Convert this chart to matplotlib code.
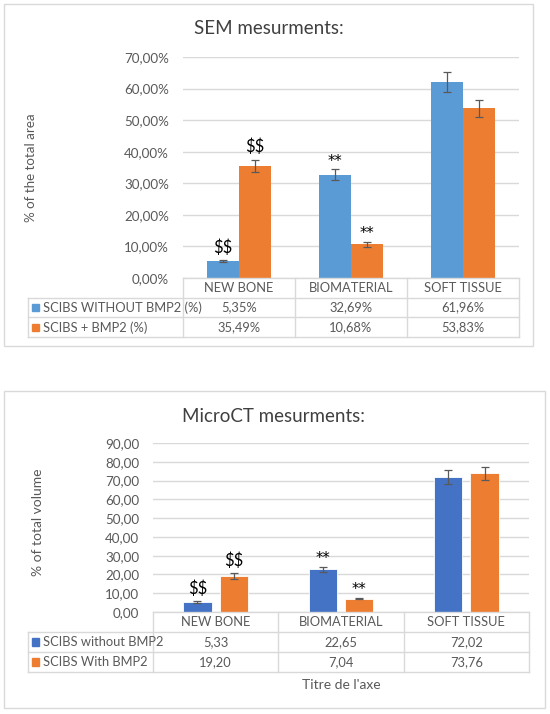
import matplotlib
matplotlib.use("Agg")
import matplotlib.pyplot as plt
from matplotlib.patches import Rectangle
from matplotlib.ticker import FuncFormatter

plt.rcParams["font.family"] = ["Lato", "DejaVu Sans"]

# data
categories = ["NEW BONE", "BIOMATERIAL", "SOFT TISSUE"]

sem_labels = ["SCIBS WITHOUT BMP2 (%)", "SCIBS + BMP2 (%)"]
sem_without = [5.35, 32.69, 61.96]
sem_with = [35.49, 10.68, 53.83]
sem_without_err = [0.3, 1.7, 3.2]
sem_with_err = [2.0, 0.8, 2.7]
sem_without_marks = ["$$", "**", ""]
sem_with_marks = ["$$", "**", ""]

ct_labels = ["SCIBS without BMP2", "SCIBS With BMP2"]
ct_without = [5.33, 22.65, 72.02]
ct_with = [19.20, 7.04, 73.76]
ct_without_err = [0.3, 1.2, 3.8]
ct_with_err = [1.4, 0.3, 3.7]
ct_without_marks = ["$$", "**", ""]
ct_with_marks = ["$$", "**", ""]

W, H = 550, 714
TXT = "#595959"
GRID = "#d9d9d9"
ORANGE = "#ed7d31"
FS = 9.3

fig = plt.figure(figsize=(W / 100, H / 100), dpi=100)


def rect(x0, y0, x1, y1):
    # pixel box (top-left origin) -> figure fraction
    return [x0 / W, 1 - y1 / H, (x1 - x0) / W, (y1 - y0) / H]


def frame(x0, y0, x1, y1):
    fig.patches.append(Rectangle((x0 / W, 1 - y1 / H), (x1 - x0) / W, (y1 - y0) / H,
                                 transform=fig.transFigure, fill=False,
                                 edgecolor=GRID, lw=1))


def chart(box, table_left, row_h, ymax, ystep, fmt, colors, labels, s1, s2, e1, e2,
          m1, m2, width, offset, cell_fmt, edge):
    x0, y0, x1, y1 = box
    ax = fig.add_axes(rect(x0, y0, x1, y1))
    xs = range(len(categories))
    ax.bar([x - offset for x in xs], s1, width, color=colors[0], edgecolor=edge, lw=0.6, zorder=2,
           yerr=e1, capsize=2.6, error_kw=dict(ecolor=TXT, elinewidth=0.9, capthick=0.9))
    ax.bar([x + offset for x in xs], s2, width, color=colors[1], edgecolor=edge, lw=0.6, zorder=2,
           yerr=e2, capsize=2.6, error_kw=dict(ecolor=TXT, elinewidth=0.9, capthick=0.9))
    for i in xs:
        for vals, errs, marks, sign in ((s1, e1, m1, -1), (s2, e2, m2, 1)):
            if marks[i]:
                dollar = marks[i] == "$$"
                ax.annotate(marks[i], (i + sign * offset, vals[i] + errs[i]),
                            xytext=(0, 9 if dollar else 6), textcoords="offset points",
                            ha="center", va="center",
                            fontsize=12 if dollar else 10.5, color="black",
                            family="Lato" if dollar else "DejaVu Sans",
                            annotation_clip=False, parse_math=False)
    ax.set_xlim(-0.5, 2.5)
    ax.set_ylim(0, ymax)
    ax.set_yticks([v * ystep for v in range(int(round(ymax / ystep)) + 1)])
    ax.yaxis.set_major_formatter(FuncFormatter(fmt))
    ax.tick_params(axis="y", length=0, pad=10, labelsize=9.6, labelcolor=TXT)
    ax.set_xticks([])
    ax.grid(axis="y", color=GRID, lw=1, zorder=0)
    for s in ax.spines.values():
        s.set_visible(False)

    # data table under the plot, sharing the category scale
    cat_w = (x1 - x0) / 3
    left = -0.5 - (x0 - table_left) / cat_w
    tb = fig.add_axes(rect(table_left, y1, x1, y1 + 3 * row_h))
    tb.set_xlim(left, 2.5)
    tb.set_ylim(3, 0)
    tb.axis("off")
    kw = dict(color=GRID, lw=1, clip_on=False)
    tb.plot([-0.5, 2.5], [0, 0], **kw)
    for y in (1, 2, 3):
        tb.plot([left, 2.5], [y, y], **kw)
    for x in (-0.5, 0.5, 1.5, 2.5):
        tb.plot([x, x], [0, 3], **kw)
    tb.plot([left, left], [1, 3], **kw)
    for i, c in enumerate(categories):
        tb.text(i, 0.5, c, ha="center", va="center", fontsize=FS, color=TXT)
        tb.text(i, 1.5, cell_fmt(s1[i]), ha="center", va="center", fontsize=FS, color=TXT)
        tb.text(i, 2.5, cell_fmt(s2[i]), ha="center", va="center", fontsize=FS, color=TXT)
    sq = 7 / cat_w
    for r, (lab, col) in enumerate(zip(labels, colors)):
        tb.add_patch(Rectangle((left + 4 / cat_w, r + 1.5 - 0.18), sq, 0.36, color=col, clip_on=False))
        tb.text(left + 15 / cat_w, r + 1.5, lab, ha="left", va="center", fontsize=FS, color=TXT)
    return ax


# SEM chart
frame(4, 4, 533, 346)
ax1 = chart((183, 57, 519, 278), 28, 19.7, 70, 10,
            lambda v, p: f"{v:.2f}".replace(".", ",") + "%",
            ["#5b9bd5", ORANGE], sem_labels, sem_without, sem_with,
            sem_without_err, sem_with_err, sem_without_marks, sem_with_marks,
            0.285, 0.143, lambda v: f"{v:.2f}".replace(".", ",") + "%", "none")
fig.text(269 / W, 1 - 29 / H, "SEM mesurments:", ha="center", va="center", fontsize=13.5, color="#404040")
fig.text(31 / W, 1 - 168 / H, "% of the total area", ha="center", va="center", rotation=90,
         fontsize=9.6, color=TXT)

# MicroCT chart
frame(4, 391, 545, 708)
ax2 = chart((153, 443, 529, 612), 28, 20, 90, 10,
            lambda v, p: f"{v:.2f}".replace(".", ","),
            ["#4472c4", ORANGE], ct_labels, ct_without, ct_with,
            ct_without_err, ct_with_err, ct_without_marks, ct_with_marks,
            0.225, 0.145, lambda v: f"{v:.2f}".replace(".", ","), "white")
fig.text(274 / W, 1 - 416 / H, "MicroCT mesurments:", ha="center", va="center", fontsize=13.5, color="#404040")
fig.text(38 / W, 1 - 522 / H, "% of total volume", ha="center", va="center", rotation=90,
         fontsize=10, color=TXT)
fig.text(341 / W, 1 - 685 / H, "Titre de l'axe", ha="center", va="center", fontsize=10, color=TXT)

fig.savefig("out.png", dpi=100, facecolor="white")
